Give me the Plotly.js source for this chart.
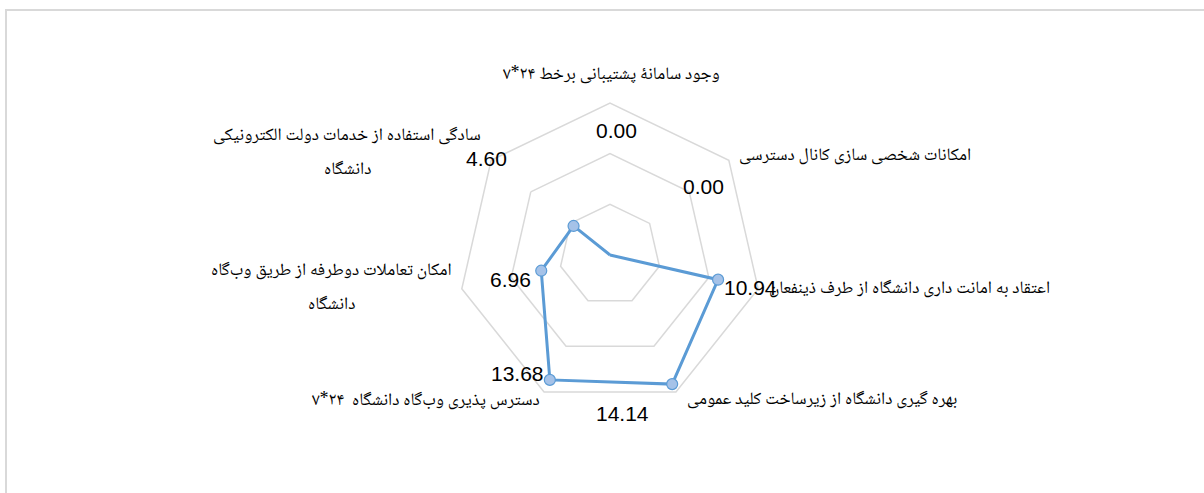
<!DOCTYPE html>
<html><head><meta charset="utf-8">
<script src="https://cdn.plot.ly/plotly-3.0.1.min.js"></script>
<style>
html,body{margin:0;padding:0;background:#fff;}
#wrap{position:relative;width:1204px;height:493px;overflow:hidden;background:#fff;}
#chart{position:absolute;left:0;top:0;width:1204px;height:493px;}
#frame{position:absolute;left:5px;top:9px;width:1400px;height:700px;border-top:2px solid #d9d9d9;border-left:2px solid #d9d9d9;pointer-events:none;}
</style></head><body>
<div id="wrap"><div id="chart"></div><div id="frame"></div></div>
<script>
const categories = [
  "وجود سامانهٔ پشتیبانی برخط ۲۴*۷",
  "امکانات شخصی سازی کانال دسترسی",
  "اعتقاد به امانت داری دانشگاه از طرف ذینفعان",
  "بهره گیری دانشگاه از زیرساخت کلید عمومی",
  "دسترس پذیری وب‌گاه دانشگاه  ۲۴*۷",
  "امکان تعاملات دوطرفه از طریق وب‌گاه<br>دانشگاه",
  "سادگی استفاده از خدمات دولت الکترونیکی<br>دانشگاه"
];
const values = [0.00, 0.00, 10.94, 14.14, 13.68, 6.96, 4.60];
const valueLabels = values.map(v => v.toFixed(2));

// ---- layout / style ----
const W = 1204, H = 493, CX = 610, CY = 255, R = 152, RMAX = 15;
// pixel offsets of value labels from their points
const labelShift = [[6,-125],[93,-69],[32,8],[-50,29],[-32,-6],[-31,9],[-87,-67]];
// category label placement relative to the outer vertex: [dx, dy, xanchor]
const catShift = [[1,-28,'center'],[8,-4,'left'],[9,0,'left'],[9,8,'left'],[-2,9,'right'],[-130,-18,'center'],[-144,-24,'center']];
const LINE_GAP = 34;

const n = categories.length;
function toPx(r, k) {
  const ang = (90 - k * 360 / n) * Math.PI / 180;
  const rp = r / RMAX * R;
  return [CX + rp * Math.cos(ang), CY - rp * Math.sin(ang)];
}

const annotations = [];
values.forEach((v, k) => {
  const [px, py] = toPx(v, k);
  annotations.push({
    xref: 'paper', yref: 'paper', x: px / W, y: 1 - py / H,
    xanchor: 'center', yanchor: 'middle', showarrow: false,
    xshift: labelShift[k][0], yshift: -labelShift[k][1],
    text: valueLabels[k],
    font: {family: 'Liberation Sans, Arial, sans-serif', size: 21, color: '#000'}
  });
});
categories.forEach((c, k) => {
  const [px, py] = toPx(RMAX, k);
  c.split('<br>').forEach((line, i) => {
    annotations.push({
      xref: 'paper', yref: 'paper', x: px / W, y: 1 - py / H,
      xanchor: catShift[k][2], yanchor: 'middle', showarrow: false,
      xshift: catShift[k][0], yshift: -(catShift[k][1] + i * LINE_GAP),
      text: line,
      font: {family: 'Noto Naskh Arabic, DejaVu Sans, sans-serif', size: 17.5, color: '#000'}
    });
  });
});

const trace = {
  type: 'scatterpolar',
  r: values.concat([values[0]]),
  theta: categories.concat([categories[0]]),
  mode: 'lines+markers',
  line: {color: '#5b9bd5', width: 3},
  marker: {size: 11, color: '#a5c2e8', line: {color: '#5b9bd5', width: 1.2}},
  hoverinfo: 'skip'
};

const layout = {
  width: W, height: H,
  margin: {l: 0, r: 0, t: 0, b: 0},
  paper_bgcolor: 'rgba(0,0,0,0)',
  showlegend: false,
  polar: {
    domain: {x: [(CX - R) / W, (CX + R) / W], y: [1 - (CY + R) / H, 1 - (CY - R) / H]},
    gridshape: 'linear',
    bgcolor: 'rgba(0,0,0,0)',
    radialaxis: {range: [0, RMAX], dtick: 5, showticklabels: false, ticks: '', showline: false,
                 gridcolor: '#d9d9d9', gridwidth: 1.5},
    angularaxis: {type: 'category', categoryarray: categories, direction: 'clockwise', rotation: 90,
                  showgrid: false, showline: true, linecolor: '#d9d9d9', linewidth: 1.5, ticks: '',
                  showticklabels: false}
  },
  annotations: annotations
};

Plotly.newPlot('chart', [trace], layout, {staticPlot: true, displayModeBar: false});
</script>
</body></html>
